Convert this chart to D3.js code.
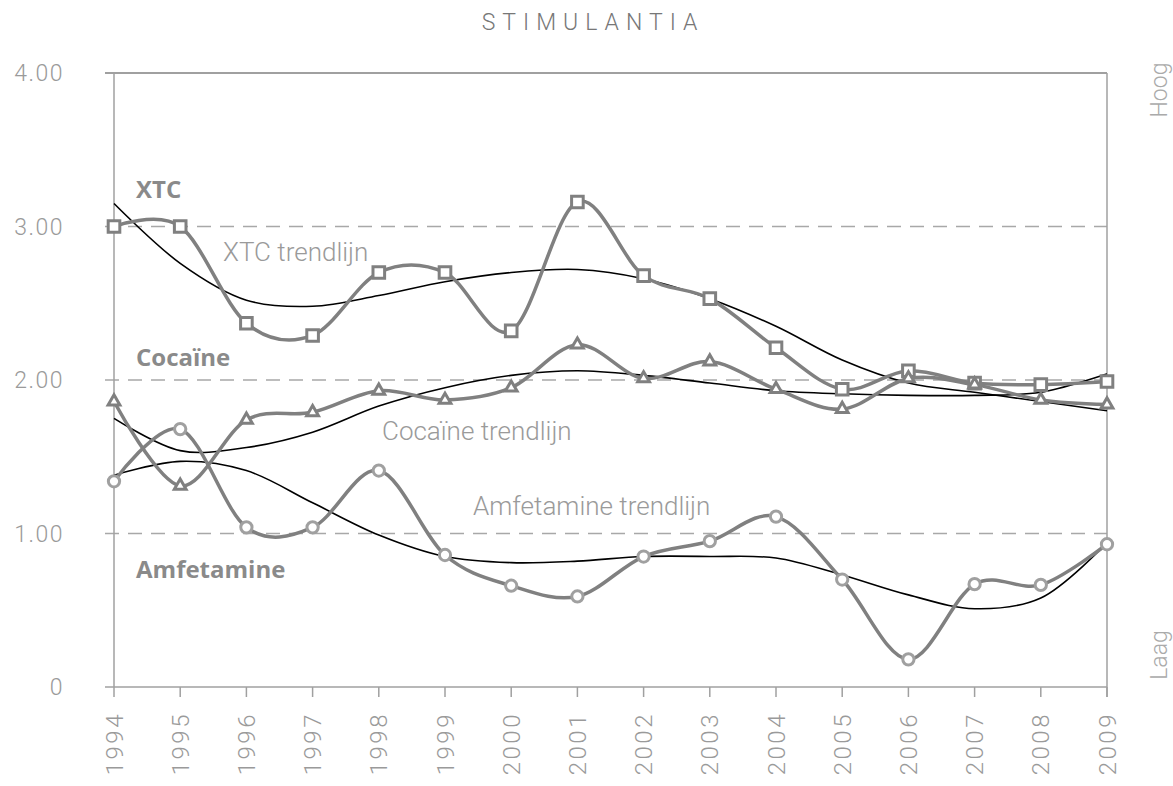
<!DOCTYPE html>
<html lang="nl">
<head>
<meta charset="UTF-8">
<title>Stimulantia</title>
<script src="https://d3js.org/d3.v7.min.js"></script>
<style>
    body{ margin:0; background:#fff; }
    text{ font-family: Roboto, "Open Sans", sans-serif; }
    .tick-label{ fill:#9a9a9a; font-weight:300; font-size:23px; letter-spacing:1.5px; }
    .year{ fill:#9a9a9a; font-weight:300; font-size:24px; letter-spacing:2.5px; }
    .title{ fill:#777; font-weight:300; font-size:23px; letter-spacing:7px; text-anchor:middle; }
    .series-name{ fill:#8a8a8a; font-family:"Open Sans", sans-serif; font-weight:bold; font-size:24px; }
    .trend-name{ fill:#9a9a9a; font-weight:300; font-size:26px; }
    .side{ fill:#aaa; font-weight:300; font-size:23px; }
</style>
</head>
<body>
<svg id="chart" width="1173" height="786"></svg>
<script>
    // data
    const years = [1994,1995,1996,1997,1998,1999,2000,2001,2002,2003,2004,2005,2006,2007,2008,2009];
    const xtc        = [3.00,3.00,2.37,2.29,2.70,2.70,2.32,3.16,2.68,2.53,2.21,1.94,2.06,1.98,1.97,1.99];
    const cocaine    = [1.86,1.31,1.74,1.79,1.93,1.87,1.95,2.23,2.01,2.12,1.94,1.81,2.01,1.97,1.87,1.84];
    const amfetamine = [1.34,1.68,1.04,1.04,1.41,0.86,0.66,0.59,0.85,0.95,1.11,0.70,0.18,0.67,0.665,0.93];
    const xtcTrend        = [3.15,2.76,2.52,2.48,2.55,2.64,2.70,2.72,2.66,2.53,2.35,2.13,1.98,1.92,1.86,1.80];
    const cocaineTrend    = [1.75,1.54,1.56,1.66,1.83,1.95,2.03,2.06,2.03,1.98,1.93,1.91,1.90,1.90,1.92,2.04];
    const amfetamineTrend = [1.38,1.47,1.41,1.20,0.99,0.85,0.81,0.82,0.85,0.85,0.84,0.73,0.60,0.51,0.58,0.94];
    const yTicks = [0,1,2,3,4];

    const svg = d3.select("#chart");
    const x = d3.scaleLinear().domain([1994,2009]).range([114,1107]);
    const y = d3.scaleLinear().domain([0,4]).range([687,73]);

    // title
    svg.append("text").attr("class","title").attr("x",593).attr("y",30).text("STIMULANTIA");

    // gridlines (dashed) at 1,2,3
    svg.append("g").selectAll("line")
        .data([1,2,3])
        .join("line")
        .attr("x1",105).attr("x2",x(2009))
        .attr("y1",d=>y(d)).attr("y2",d=>y(d))
        .attr("stroke","#a8a8a8").attr("stroke-width",1.5)
        .attr("stroke-dasharray","14,9");

    // frame
    svg.append("line").attr("x1",105).attr("x2",x(2009)).attr("y1",y(4)).attr("y2",y(4))
        .attr("stroke","#a0a0a0").attr("stroke-width",2);
    svg.append("line").attr("x1",x(1994)).attr("x2",x(1994)).attr("y1",y(4)).attr("y2",y(0))
        .attr("stroke","#a0a0a0").attr("stroke-width",1.5);
    svg.append("line").attr("x1",x(2009)).attr("x2",x(2009)).attr("y1",y(4)).attr("y2",y(0)+10)
        .attr("stroke","#a0a0a0").attr("stroke-width",1.5);
    svg.append("line").attr("x1",105).attr("x2",x(2009)).attr("y1",y(0)).attr("y2",y(0))
        .attr("stroke","#a0a0a0").attr("stroke-width",1.5);

    // year ticks
    svg.append("g").selectAll("line")
        .data(years)
        .join("line")
        .attr("x1",d=>x(d)).attr("x2",d=>x(d))
        .attr("y1",y(0)).attr("y2",y(0)+10)
        .attr("stroke","#a0a0a0").attr("stroke-width",1.5);

    // y labels
    svg.append("g").selectAll("text")
        .data(yTicks)
        .join("text")
        .attr("class","tick-label")
        .attr("x",64).attr("y",d=>y(d))
        .attr("dy","0.35em")
        .attr("text-anchor","end")
        .text(d=>d===0 ? "0" : d3.format(".2f")(d));

    // year labels
    svg.append("g").selectAll("text")
        .data(years)
        .join("text")
        .attr("class","year")
        .attr("transform",d=>`translate(${x(d)},712) rotate(-90)`)
        .attr("dy","0.36em")
        .attr("text-anchor","end")
        .text(d=>d);

    // side labels
    svg.append("text").attr("class","side")
        .attr("transform",`translate(1159,90) rotate(-90)`)
        .attr("dy","0.36em").attr("text-anchor","middle").text("Hoog");
    svg.append("text").attr("class","side")
        .attr("transform",`translate(1159,655) rotate(-90)`)
        .attr("dy","0.36em").attr("text-anchor","middle").text("Laag");

    const smooth = d3.line().x((d,i)=>x(years[i])).y(d=>y(d)).curve(d3.curveCardinal.tension(0));
    const trend = d3.line().x((d,i)=>x(years[i])).y(d=>y(d)).curve(d3.curveCatmullRom.alpha(0.5));

    // trend lines
    [xtcTrend,cocaineTrend,amfetamineTrend].forEach(t=>{
        svg.append("path").attr("d",trend(t))
            .attr("fill","none").attr("stroke","#000").attr("stroke-width",1.6);
    });

    // data series
    const series = [
        {values: xtc, marker: "square", stroke: "#808080"},
        {values: cocaine, marker: "triangle", stroke: "#808080"},
        {values: amfetamine, marker: "circle", stroke: "#a0a0a0"}
    ];
    series.forEach(s=>{
        svg.append("path").attr("d",smooth(s.values))
            .attr("fill","none").attr("stroke","#808080").attr("stroke-width",3.5);
    });
    series.forEach(s=>{
        const g = svg.append("g");
        const sym = s.marker==="square" ? d3.symbolSquare : s.marker==="triangle" ? d3.symbolTriangle : d3.symbolCircle;
        const size = s.marker==="square" ? 135 : s.marker==="triangle" ? 60 : 100;
        g.selectAll("path")
            .data(s.values)
            .join("path")
            .attr("transform",(d,i)=>`translate(${x(years[i])},${y(d)})`)
            .attr("d",d3.symbol().type(sym).size(size))
            .attr("fill","#fff")
            .attr("stroke",s.stroke)
            .attr("stroke-width",3);
    });

    // series names
    svg.append("text").attr("class","series-name").attr("x",136).attr("y",198).text("XTC");
    svg.append("text").attr("class","series-name").attr("x",136).attr("y",366).text("Cocaïne");
    svg.append("text").attr("class","series-name").attr("x",136).attr("y",578).text("Amfetamine");
    svg.append("text").attr("class","trend-name").attr("x",223).attr("y",261).text("XTC trendlijn");
    svg.append("text").attr("class","trend-name").attr("x",382).attr("y",440).text("Cocaïne trendlijn");
    svg.append("text").attr("class","trend-name").attr("x",473).attr("y",515).text("Amfetamine trendlijn");
</script>
</body>
</html>
